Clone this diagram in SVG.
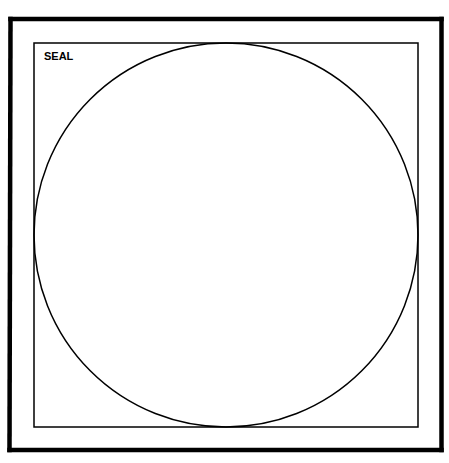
<svg xmlns="http://www.w3.org/2000/svg" width="449" height="463" viewBox="0 0 449 463">
<style>
.frame{fill:none;stroke:#000;stroke-width:4.5;stroke-linecap:square}
.thin{fill:none;stroke:#000;stroke-width:1.5}
.lbl{font-family:"Liberation Sans",Arial,sans-serif;font-weight:bold;font-size:11px;fill:#000}
</style>
<rect width="449" height="463" fill="#fff"/>
<g id="frame">
<line class="frame" x1="10.5" y1="19" x2="441.5" y2="19"/>
<line class="frame" x1="441.5" y1="19" x2="441.5" y2="450"/>
<line class="frame" x1="441.5" y1="450" x2="9.5" y2="450"/>
<line class="frame" x1="9.5" y1="450" x2="10.5" y2="19"/>
</g>
<g id="seal">
<rect class="thin" x="34" y="43" width="384" height="384"/>
<circle class="thin" cx="226" cy="235" r="192"/>
<text class="lbl" x="44" y="59.5">SEAL</text>
</g>
</svg>
